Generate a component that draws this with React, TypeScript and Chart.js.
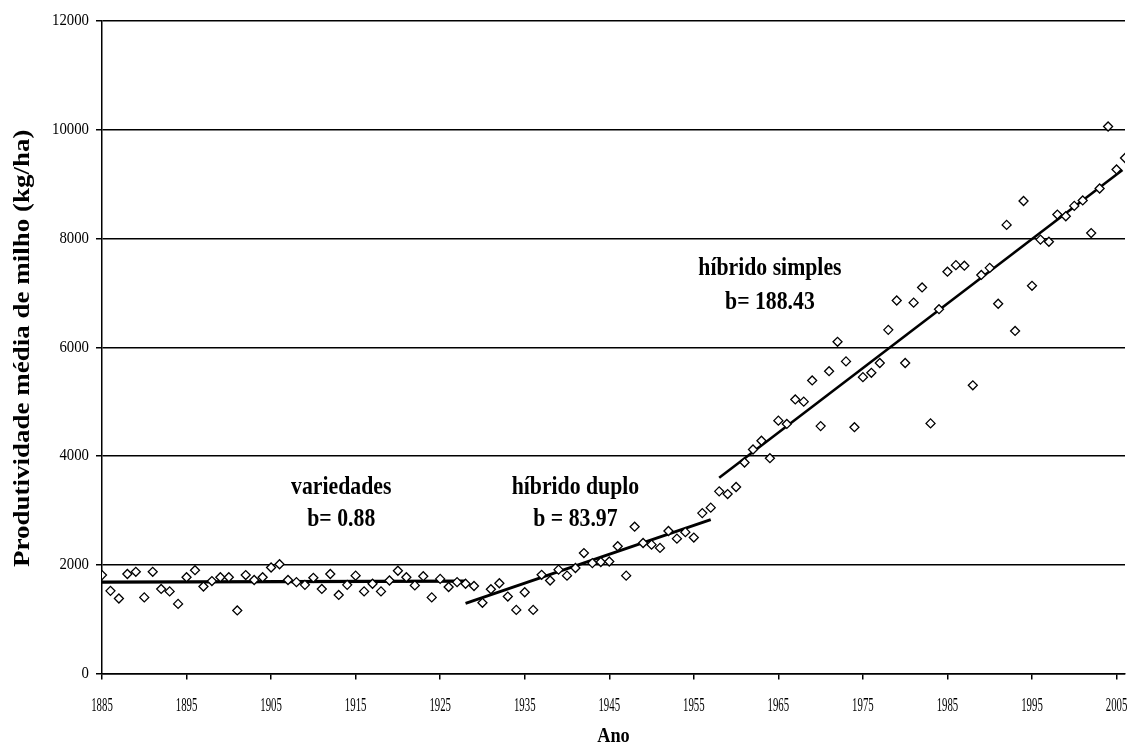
import React, { useEffect, useRef } from "react";
import { Chart, registerables } from "chart.js";

Chart.register(...registerables);

// ---- data ----
const years = [
  1885, 1886, 1887, 1888, 1889, 1890, 1891, 1892, 1893, 1894,
  1895, 1896, 1897, 1898, 1899, 1900, 1901, 1902, 1903, 1904,
  1905, 1906, 1907, 1908, 1909, 1910, 1911, 1912, 1913, 1914,
  1915, 1916, 1917, 1918, 1919, 1920, 1921, 1922, 1923, 1924,
  1925, 1926, 1927, 1928, 1929, 1930, 1931, 1932, 1933, 1934,
  1935, 1936, 1937, 1938, 1939, 1940, 1941, 1942, 1943, 1944,
  1945, 1946, 1947, 1948, 1949, 1950, 1951, 1952, 1953, 1954,
  1955, 1956, 1957, 1958, 1959, 1960, 1961, 1962, 1963, 1964,
  1965, 1966, 1967, 1968, 1969, 1970, 1971, 1972, 1973, 1974,
  1975, 1976, 1977, 1978, 1979, 1980, 1981, 1982, 1983, 1984,
  1985, 1986, 1987, 1988, 1989, 1990, 1991, 1992, 1993, 1994,
  1995, 1996, 1997, 1998, 1999, 2000, 2001, 2002, 2003, 2004,
  2005, 2006,
];

const yields = [
  1810, 1520, 1380, 1830, 1870, 1400, 1870, 1555, 1510, 1280,
  1770, 1900, 1600, 1700, 1770, 1770, 1160, 1810, 1720, 1770,
  1950, 2010, 1720, 1680, 1630, 1760, 1555, 1830, 1445, 1630,
  1800, 1510, 1650, 1510, 1710, 1890, 1770, 1620, 1790, 1400,
  1740, 1590, 1680, 1650, 1610, 1300, 1550, 1660, 1415, 1170,
  1495, 1170, 1815, 1710, 1910, 1800, 1940, 2215, 2030, 2050,
  2060, 2340, 1800, 2700, 2400, 2370, 2310, 2620, 2480, 2600,
  2500, 2950, 3050, 3350, 3300, 3430, 3880, 4120, 4280, 3960,
  4650, 4590, 5040, 5000, 5390, 4550, 5560, 6100, 5740, 4530,
  5450, 5530, 5710, 6320, 6860, 5710, 6820, 7100, 4600, 6700,
  7390, 7510, 7500, 5300, 7330, 7460, 6800, 8250, 6300, 8690,
  7130, 7980, 7940, 8440, 8410, 8600, 8700, 8100, 8920, 10060,
  9270, 9480,
];

// regression segments (start / end)
const trendVariedadesX = [1885, 1928];
const trendVariedadesY = [1680, 1700];
const trendDuploX = [1928, 1957];
const trendDuploY = [1290, 2830];
const trendSimplesX = [1958, 2005.7];
const trendSimplesY = [3600, 9260];

const xTickValues = [1885, 1895, 1905, 1915, 1925, 1935, 1945, 1955, 1965, 1975, 1985, 1995, 2005];
const yTickValues = [0, 2000, 4000, 6000, 8000, 10000, 12000];

const annotationTexts = ["variedades", "b= 0.88", "híbrido duplo", "b = 83.97", "híbrido simples", "b= 188.43"];
const annotationYears = [1913.3, 1913.3, 1941.0, 1941.0, 1964.0, 1964.0];
const annotationValues = [3420, 2830, 3420, 2830, 7440, 6830];

const xTitle = "Ano";
const yTitle = "Produtividade média de milho (kg/ha)";

const SERIF = "'Liberation Serif', 'Times New Roman', serif";

function drawText(
  ctx: CanvasRenderingContext2D,
  text: string,
  x: number,
  y: number,
  font: string,
  align: CanvasTextAlign,
  sx: number
) {
  ctx.save();
  ctx.translate(x, y);
  ctx.scale(sx, 1);
  ctx.font = font;
  ctx.textAlign = align;
  ctx.textBaseline = "middle";
  ctx.fillStyle = "#000";
  ctx.fillText(text, 0, 0);
  ctx.restore();
}

const textPlugin = {
  id: "textPlugin",
  afterDraw(chart: any) {
    const ctx: CanvasRenderingContext2D = chart.ctx;
    const xs = chart.scales.x;
    const ys = chart.scales.y;
    const area = chart.chartArea;

    // tick labels
    yTickValues.forEach((v) => {
      drawText(ctx, String(v), xs.left - 13, ys.getPixelForValue(v), `17px ${SERIF}`, "right", 0.87);
    });
    xTickValues.forEach((v) => {
      drawText(ctx, String(v), xs.getPixelForValue(v), area.bottom + 33, `18px ${SERIF}`, "center", 0.6);
    });

    // annotations
    annotationTexts.forEach((t, i) => {
      drawText(
        ctx,
        t,
        xs.getPixelForValue(annotationYears[i]),
        ys.getPixelForValue(annotationValues[i]),
        `bold 25px ${SERIF}`,
        "center",
        0.87
      );
    });

    // axis titles
    drawText(ctx, xTitle, (area.left + area.right) / 2, 737, `bold 21px ${SERIF}`, "center", 0.87);

    ctx.save();
    ctx.translate(23, (area.top + area.bottom) / 2 + 1);
    ctx.rotate(-Math.PI / 2);
    ctx.scale(1, 0.87);
    ctx.font = `bold 27px ${SERIF}`;
    ctx.textAlign = "center";
    ctx.textBaseline = "middle";
    ctx.fillStyle = "#000";
    ctx.fillText(yTitle, 0, 0);
    ctx.restore();
  },
};

function App() {
  const ref = useRef<HTMLCanvasElement | null>(null);

  useEffect(() => {
    if (!ref.current) return;
    const points = years.map((y, i) => ({ x: y, y: yields[i] }));
    const seg = (xa: number[], ya: number[]) => xa.map((x, i) => ({ x, y: ya[i] }));
    const lineStyle = (w: number) => ({
      type: "line" as const,
      borderColor: "#000",
      borderWidth: w,
      pointRadius: 0,
      fill: false,
      tension: 0,
    });

    const chart = new Chart(ref.current, {
      type: "scatter",
      data: {
        datasets: [
          {
            label: "Produtividade",
            data: points,
            pointStyle: "rectRot",
            pointRadius: 4.5,
            borderWidth: 1.3,
            borderColor: "#000",
            backgroundColor: "#fff",
          },
          { label: "variedades", data: seg(trendVariedadesX, trendVariedadesY), ...lineStyle(3.2) },
          { label: "híbrido duplo", data: seg(trendDuploX, trendDuploY), ...lineStyle(3) },
          { label: "híbrido simples", data: seg(trendSimplesX, trendSimplesY), ...lineStyle(2.6) },
        ] as any,
      },
      options: {
        animation: false,
        responsive: false,
        devicePixelRatio: 1,
        layout: { padding: { top: 21, right: 10, left: 0, bottom: 0 } },
        plugins: {
          legend: { display: false },
          tooltip: { enabled: false },
        },
        scales: {
          x: {
            type: "linear",
            min: 1885,
            max: 2006,
            afterBuildTicks: (s: any) => {
              s.ticks = xTickValues.map((v) => ({ value: v }));
            },
            afterFit: (s: any) => {
              s.height = 75.5;
            },
            grid: { drawOnChartArea: false, color: "#000", lineWidth: 1.5, tickLength: 6 },
            border: { color: "#000", width: 1.5 },
            ticks: { display: false },
          },
          y: {
            min: 0,
            max: 12000,
            afterBuildTicks: (s: any) => {
              s.ticks = yTickValues.map((v) => ({ value: v }));
            },
            afterFit: (s: any) => {
              s.width = 102;
            },
            grid: { color: "#000", lineWidth: 1.5, tickLength: 6 },
            border: { color: "#000", width: 1.5 },
            ticks: { display: false },
          },
        },
      } as any,
      plugins: [textPlugin],
    });
    return () => chart.destroy();
  }, []);

  return (
    <div style={{ position: "absolute", left: 0, top: 0, width: 1135, height: 749, background: "#fff" }}>
      <canvas ref={ref} width={1135} height={749} style={{ display: "block" }} />
    </div>
  );
}

export default App;
